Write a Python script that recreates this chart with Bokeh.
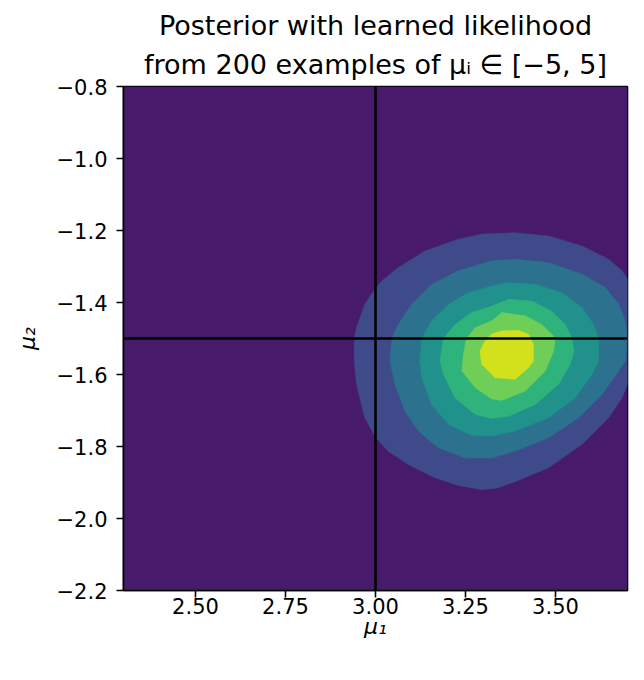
from bokeh.plotting import figure
from bokeh.models import Range1d, FixedTicker, Span, Title
from bokeh.embed import file_html
from bokeh.resources import INLINE

# ---------------- data ----------------
title_line1 = "Posterior with learned likelihood"
title_line2 = "from 200 examples of μᵢ ∈ [−5, 5]"
x_label = "μ₁"
y_label = "μ₂"

x_ticks = [2.5, 2.75, 3.0, 3.25, 3.5]
x_tick_labels = ["2.50", "2.75", "3.00", "3.25", "3.50"]
y_ticks = [-2.2, -2.0, -1.8, -1.6, -1.4, -1.2, -1.0, -0.8]
y_tick_labels = ["−2.2", "−2.0", "−1.8", "−1.6", "−1.4", "−1.2", "−1.0", "−0.8"]

# true parameter values (reference lines)
mu1_true = 3.0
mu2_true = -1.5

# extent of the evaluated grid (lowest filled band covers it all)
grid_x = [2.3, 3.7]
grid_y = [-2.2, -0.8]

# filled contour bands, lowest to highest (viridis, 7 bands)
level_colors = ["#481a6c", "#3e4a89", "#2c718e", "#21918c",
                "#2eb37c", "#6ece58", "#d2e11b"]

level1_x = [2.941, 2.947, 2.970, 3.001, 3.017, 3.063, 3.137, 3.230, 3.295, 3.388,
            3.481, 3.574, 3.648, 3.685, 3.700, 3.700, 3.685, 3.648, 3.574, 3.481,
            3.388, 3.340, 3.295, 3.230, 3.165, 3.091, 3.035, 3.001, 2.970, 2.947,
            2.941]
level1_y = [-1.500, -1.470, -1.405, -1.359, -1.340, -1.303, -1.257, -1.224, -1.210, -1.206,
            -1.215, -1.243, -1.280, -1.312, -1.335, -1.627, -1.665, -1.720, -1.794, -1.859,
            -1.898, -1.915, -1.920, -1.908, -1.887, -1.850, -1.813, -1.776, -1.720, -1.627,
            -1.563]

level2_x = [3.040, 3.045, 3.063, 3.100, 3.156, 3.230, 3.323, 3.388, 3.481, 3.574,
            3.639, 3.676, 3.694, 3.699, 3.694, 3.676, 3.630, 3.565, 3.481, 3.388,
            3.323, 3.249, 3.175, 3.119, 3.082, 3.054]
level2_y = [-1.563, -1.500, -1.461, -1.405, -1.349, -1.312, -1.284, -1.280, -1.289, -1.321,
            -1.359, -1.405, -1.451, -1.500, -1.563, -1.590, -1.655, -1.720, -1.776, -1.813,
            -1.832, -1.832, -1.804, -1.757, -1.702, -1.627]

level3_x = [3.123, 3.128, 3.156, 3.203, 3.258, 3.323, 3.370, 3.444, 3.518, 3.574,
            3.606, 3.620, 3.620, 3.602, 3.555, 3.481, 3.388, 3.323, 3.267, 3.203,
            3.156, 3.128]
level3_y = [-1.563, -1.500, -1.451, -1.405, -1.373, -1.354, -1.345, -1.349, -1.373, -1.414,
            -1.461, -1.500, -1.563, -1.600, -1.665, -1.720, -1.757, -1.771, -1.769, -1.739,
            -1.683, -1.609]

level4_x = [3.179, 3.189, 3.221, 3.267, 3.323, 3.370, 3.435, 3.490, 3.527, 3.546,
            3.551, 3.541, 3.509, 3.444, 3.370, 3.323, 3.277, 3.221, 3.189]
level4_y = [-1.563, -1.500, -1.461, -1.428, -1.410, -1.391, -1.396, -1.424, -1.461, -1.500,
            -1.535, -1.572, -1.627, -1.683, -1.716, -1.722, -1.711, -1.665, -1.600]

level5_x = [3.244, 3.253, 3.277, 3.323, 3.351, 3.416, 3.462, 3.490, 3.499, 3.495,
            3.472, 3.416, 3.351, 3.323, 3.277, 3.240]
level5_y = [-1.544, -1.500, -1.470, -1.451, -1.428, -1.437, -1.461, -1.488, -1.500, -1.535,
            -1.590, -1.646, -1.672, -1.668, -1.637, -1.590]

level6_x = [3.304, 3.323, 3.351, 3.397, 3.425, 3.439, 3.439, 3.425, 3.388, 3.332,
            3.314, 3.295, 3.290]
level6_y = [-1.507, -1.487, -1.479, -1.477, -1.488, -1.516, -1.563, -1.581, -1.613, -1.609,
            -1.590, -1.572, -1.535]

# ---------------- figure ----------------
FONT = "DejaVu Sans"

p = figure(width=644, height=680, output_backend="svg", toolbar_location=None,
           title=None,
           x_range=Range1d(grid_x[0], grid_x[1]), y_range=Range1d(grid_y[0], grid_y[1]),
           min_border_left=123, min_border_right=17, min_border_top=86,
           min_border_bottom=90)
p.background_fill_color = "white"
p.border_fill_color = "white"
p.grid.visible = False
p.outline_line_color = "black"
p.outline_line_width = 1.6

# lowest band: whole grid
p.quad(left=[grid_x[0]], right=[grid_x[1]], bottom=[grid_y[0]], top=[grid_y[1]],
       fill_color=level_colors[0], line_color=None)

bands = [(level1_x, level1_y), (level2_x, level2_y), (level3_x, level3_y),
         (level4_x, level4_y), (level5_x, level5_y), (level6_x, level6_y)]
for i, (bx, by) in enumerate(bands):
    p.patch(bx, by, fill_color=level_colors[i + 1], line_color=level_colors[i + 1],
            line_width=0.5)

p.add_layout(Span(location=mu1_true, dimension="height", line_color="black", line_width=2.6))
p.add_layout(Span(location=mu2_true, dimension="width", line_color="black", line_width=2.6))

# axes
for ax in (p.xaxis[0], p.yaxis[0]):
    ax.axis_line_color = "black"
    ax.axis_line_width = 1.6
    ax.major_tick_line_color = "black"
    ax.major_tick_line_width = 1.6
    ax.major_tick_out = 7
    ax.major_tick_in = 0
    ax.minor_tick_line_color = None
    ax.major_label_text_font = FONT
    ax.major_label_text_font_size = "21px"
    ax.major_label_text_color = "black"
    ax.axis_label_text_font = FONT
    ax.axis_label_text_font_size = "22px"
    ax.axis_label_text_font_style = "italic"
    ax.axis_label_text_color = "black"

p.xaxis.ticker = FixedTicker(ticks=x_ticks)
p.xaxis.major_label_overrides = dict(zip(x_ticks, x_tick_labels))
p.yaxis.ticker = FixedTicker(ticks=y_ticks)
p.yaxis.major_label_overrides = dict(zip(y_ticks, y_tick_labels))
p.xaxis.axis_label = x_label
p.yaxis.axis_label = y_label
p.xaxis.major_label_standoff = 0
p.yaxis.major_label_standoff = 9
p.xaxis.axis_label_standoff = -3
p.yaxis.axis_label_standoff = 14

# two-line title (first added sits closest to the plot)
p.add_layout(Title(text=title_line2, align="center", text_font=FONT,
                   text_font_size="27px", text_font_style="normal",
                   text_color="black", standoff=13), "above")
p.add_layout(Title(text=title_line1, align="center", text_font=FONT,
                   text_font_size="27px", text_font_style="normal",
                   text_color="black", standoff=0), "above")

open("out.html", "w").write(file_html(p, INLINE))
